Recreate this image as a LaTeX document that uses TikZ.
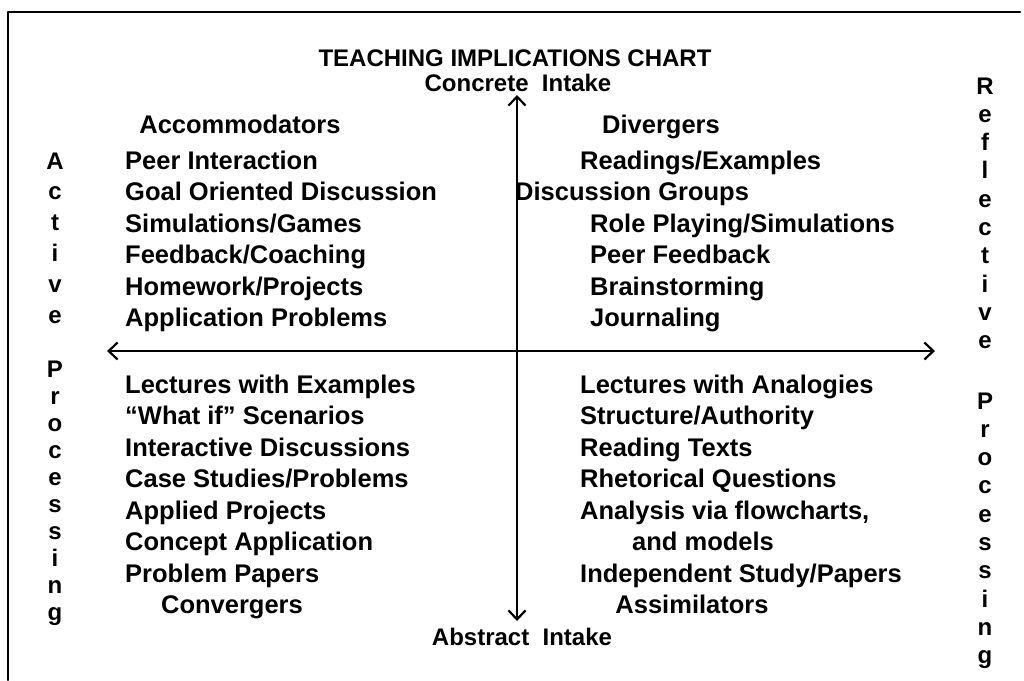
\documentclass[tikz,border=0pt]{standalone}
\usepackage{fontspec}
\setmainfont{Liberation Sans}
\usetikzlibrary{arrows.meta}
\tikzset{
  item/.style={font=\fontsize{25.5}{30}\selectfont\bfseries, inner sep=0pt, anchor=base west},
  head/.style={font=\fontsize{25.5}{30}\selectfont\bfseries, inner sep=0pt, anchor=base},
  axis/.style={font=\fontsize{24}{28}\selectfont\bfseries, inner sep=0pt, anchor=base},
  vlet/.style={font=\fontsize{24}{28}\selectfont\bfseries, inner sep=0pt, anchor=base},
}
\begin{document}
\begin{tikzpicture}[x=1pt,y=-1pt,line cap=round,line join=round,>={Straight Barb[length=9pt,width=17pt]}]
\useasboundingbox (0,0) rectangle (1024,680);
% frame
\draw[line width=2pt] (1020,12) -- (8,12) -- (8,680);
% axes
\coordinate (intop) at (517,95);
\coordinate (inbot) at (517,621);
\coordinate (prleft) at (107,351);
\coordinate (prright) at (935,351);
\draw[line width=2.2pt,<->] (inbot) -- (intop);
\draw[line width=2.2pt,<->] (prleft) -- (prright);
% titles
\node[axis] (title) at (515,66) {TEACHING IMPLICATIONS CHART};
\node[axis] (concrete) at (518,91) {Concrete\ \ Intake};
\node[axis] (abstract) at (522,645) {Abstract\ \ Intake};
\node[head] (accom) at (240,133) {Accommodators};
\node[head] (diverg) at (661,133) {Divergers};
\node[head] (converg) at (232,613) {Convergers};
\node[head] (assim) at (692,613) {Assimilators};
% quadrant lists
\foreach \t [count=\i from 0] in {Peer Interaction,Goal Oriented Discussion,Simulations/Games,Feedback/Coaching,Homework/Projects,Application Problems}
  \node[item] (acc\i) at (125,{169+31.5*\i}) {\t};
\foreach \x/\t [count=\i from 0] in {580/{Readings/Examples},515/{Discussion Groups},590/{Role Playing/Simulations},590/{Peer Feedback},590/{Brainstorming},590/{Journaling}}
  \node[item] (div\i) at (\x,{169+31.5*\i}) {\t};
\foreach \t [count=\i from 0] in {Lectures with Examples,“What if” Scenarios,Interactive Discussions,Case Studies/Problems,Applied Projects,Concept Application,Problem Papers}
  \node[item] (conv\i) at (125,{393+31.5*\i}) {\t};
\foreach \x/\t [count=\i from 0] in {580/{Lectures with Analogies},580/{Structure/Authority},580/{Reading Texts},580/{Rhetorical Questions},580/{Analysis via flowcharts,},632/{and models},580/{Independent Study/Papers}}
  \node[item] (assim\i) at (\x,{393+31.5*\i}) {\t};
% side letters
\foreach \c [count=\i from 0] in {A,c,t,i,v,e}
  \node[vlet] (act\i) at (55,{169+30.8*\i}) {\c};
\foreach \c [count=\i from 0] in {P,r,o,c,e,s,s,i,n,g}
  \node[vlet] (actp\i) at (55,{377+27.1*\i}) {\c};
\foreach \c [count=\i from 0] in {R,e,f,l,e,c,t,i,v,e}
  \node[vlet] (ref\i) at (985,{94+28.3*\i}) {\c};
\foreach \c [count=\i from 0] in {P,r,o,c,e,s,s,i,n,g}
  \node[vlet] (refp\i) at (985,{409+28.3*\i}) {\c};
\end{tikzpicture}
\end{document}
